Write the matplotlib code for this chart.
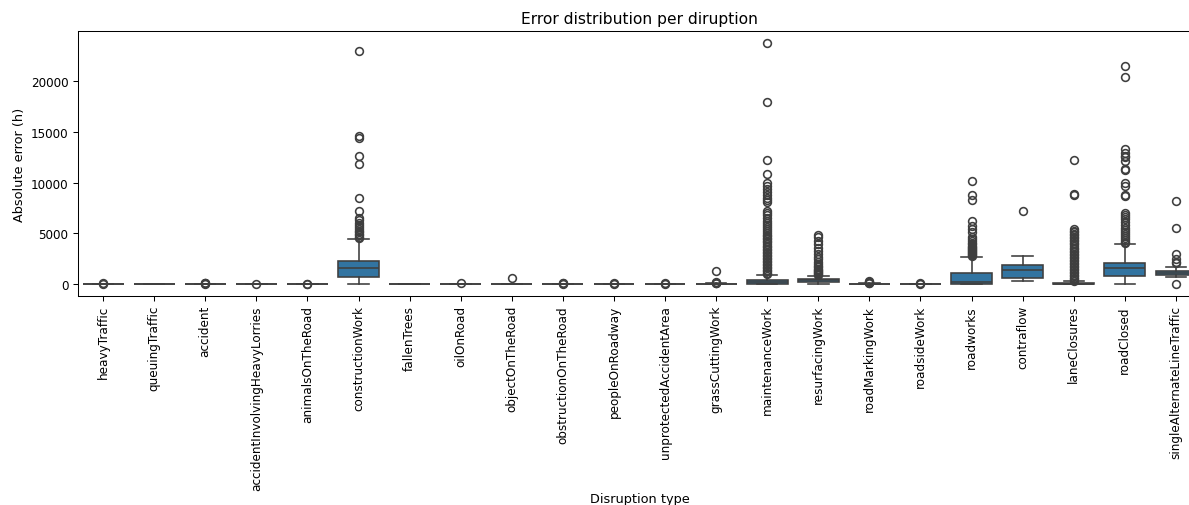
import matplotlib
matplotlib.use("Agg")
import matplotlib.pyplot as plt

# Disruption categories on the x axis
categories = [
    "heavyTraffic", "queuingTraffic", "accident", "accidentInvolvingHeavyLorries",
    "animalsOnTheRoad", "constructionWork", "fallenTrees", "oilOnRoad",
    "objectOnTheRoad", "obstructionOnTheRoad", "peopleOnRoadway",
    "unprotectedAccidentArea", "grassCuttingWork", "maintenanceWork",
    "resurfacingWork", "roadMarkingWork", "roadsideWork", "roadworks",
    "contraflow", "laneClosures", "roadClosed", "singleAlternateLineTraffic",
]

# Box statistics (hours): lower whisker, Q1, median, Q3, upper whisker
whislo = [0, 0, 0, 0, 0, 0, 0, 0, 0, 0, 0, 0, 0, 0, 0, 0, 0, 0, 300, 0, 0, 660]
q1 = [0, 0, 0, 0, 0, 720, 0, 0, 0, 0, 0, 0, 0, 20, 165, 0, 0, 20, 560, 0, 820, 890]
med = [2, 1, 3, 2, 2, 1545, 1, 5, 4, 3, 3, 3, 5, 150, 360, 5, 3, 150, 1350, 20, 1610, 1080]
q3 = [8, 4, 10, 6, 8, 2300, 3, 15, 12, 10, 10, 10, 20, 425, 520, 20, 10, 1100, 1840, 100, 2100, 1310]
whishi = [20, 8, 25, 15, 20, 4430, 6, 35, 30, 25, 25, 25, 50, 920, 820, 50, 25, 2700, 2760, 250, 3910, 1700]

# Outliers per category (hours)
fliers = [
    [30, 50],
    [],
    [30, 60, 90, 120],
    [25],
    [30, 45],
    [4500, 4650, 4800, 4950, 5100, 5250, 5400, 5600, 5800, 6000, 6300, 6500,
     7200, 8500, 11900, 12600, 14400, 14600, 23000],
    [],
    [70],
    [560],
    [30, 60, 90],
    [40, 70],
    [40, 70],
    [60, 90, 120, 150, 1250],
    [1000, 1100, 1250, 1400, 1550, 1700, 1850, 2000, 2150, 2300, 2450, 2600,
     2750, 2900, 3050, 3200, 3350, 3500, 3650, 3800, 3950, 4100, 4250, 4400,
     4550, 4700, 4850, 5000, 5200, 5400, 5600, 5800, 6000, 6200, 6500, 6800,
     7000, 7200, 8050, 8300, 8500, 8800, 9100, 9400, 9700, 9950, 10900, 12200,
     18000, 23800],
    [850, 950, 1050, 1150, 1250, 1350, 1500, 1650, 1800, 2000, 2200, 2450,
     2700, 3000, 3300, 3600, 3900, 4200, 4600, 4850],
    [60, 100, 150, 200, 250],
    [40, 70],
    [2800, 2900, 3000, 3100, 3200, 3300, 3400, 3500, 3600, 3700, 3800, 3900,
     4000, 4200, 4400, 4600, 5150, 5400, 5750, 6250, 8300, 8800, 10150],
    [7220],
    [300, 450, 600, 750, 900, 1050, 1200, 1350, 1500, 1650, 1800, 1950, 2100,
     2250, 2400, 2550, 2700, 2850, 3000, 3150, 3300, 3450, 3600, 3750, 3900,
     4050, 4200, 4350, 4500, 4650, 4800, 4950, 5100, 5250, 5400, 8770, 8850,
     12200],
    [4000, 4150, 4300, 4500, 4700, 4900, 5100, 5300, 5500, 5800, 6100, 6400,
     6600, 6800, 7000, 8700, 8800, 9700, 10000, 11300, 11400, 12100, 12500,
     12600, 12950, 13300, 20400, 21500],
    [0, 2070, 2200, 2460, 2950, 5520, 8240],
]

stats = []
for i in range(len(categories)):
    stats.append({
        "whislo": whislo[i], "q1": q1[i], "med": med[i],
        "q3": q3[i], "whishi": whishi[i], "fliers": fliers[i],
    })

box_color = "#3274a1"
line_color = "#3f3f3f"
lw = 1.25

# slightly lower dpi so text and lines come out a touch smaller
dpi = 93
fig = plt.figure(figsize=(1189 / dpi, 506 / dpi), dpi=dpi)
ax = fig.add_axes([0.0652, 0.413, 0.9453, 0.5238])

ax.bxp(
    stats, positions=range(len(categories)), widths=0.8, capwidths=0.4,
    patch_artist=True,
    boxprops=dict(facecolor=box_color, edgecolor=line_color, linewidth=lw),
    medianprops=dict(color=line_color, linewidth=lw),
    whiskerprops=dict(color=line_color, linewidth=lw),
    capprops=dict(color=line_color, linewidth=lw),
    flierprops=dict(marker="o", markerfacecolor="none", markeredgecolor=line_color,
                    markersize=6, markeredgewidth=lw, linestyle="none"),
)

ax.set_xlim(-0.5, len(categories) - 0.5)
ax.set_ylim(-1190, 24990)
ax.set_xticks(range(len(categories)))
ax.set_xticklabels(categories, rotation=90)
ax.tick_params(labelsize=9.3)
ax.set_title("Error distribution per diruption")
ax.set_xlabel("Disruption type", labelpad=1.5)
ax.set_ylabel("Absolute error (h)")

fig.savefig("out.png", dpi=dpi)
